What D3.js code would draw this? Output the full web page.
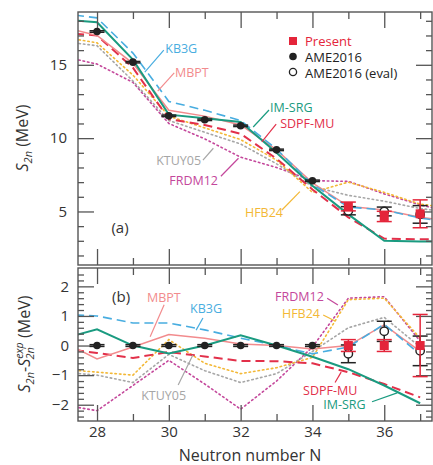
<!DOCTYPE html>
<html>
<head>
<meta charset="utf-8">
<script src="https://cdn.jsdelivr.net/npm/d3@7"></script>
<style>
  body { margin: 0; background: #fff; }
  text { font-family: "Open Sans", "Noto Sans", sans-serif; }
</style>
</head>
<body>
<svg id="chart"></svg>
<script>
const width = 433;
const height = 465;

// ---- data ----
// theory curves, panel (a): S2n in MeV
const nTheory = [27, 28, 29, 30, 31, 32, 33, 34, 35, 36, 37, 38];
const kb3gTop = [18.5, 18.2, 15.8, 12.5, 11.9, 11.2, 9.25, 6.85, 5.3, 5.1, 4.55, 4.2];
const mbptTop = [17.6, 17.0, 15.1, 11.9, 11.5, 10.9, 9.2, 6.95, 5.35, 5.1, 4.6, 4.3];
const imsrgTop = [18.1, 17.9, 15.35, 11.6, 11.35, 11.1, 9.0, 6.75, 4.8, 3.0, 2.95, 2.95];
const sdpfmuTop = [17.2, 17.0, 14.8, 11.3, 10.9, 10.3, 8.6, 6.5, 4.6, 3.15, 3.1, 3.1];
const ktuyTop = [16.6, 16.3, 13.9, 11.2, 10.4, 9.6, 8.25, 6.7, 6.1, 5.7, 5.2, 4.9];
const frdmTop = [15.6, 15.05, 13.8, 11.0, 9.95, 8.7, 8.0, 7.1, 7.05, 6.2, 5.45, 4.9];
const hfbTop = [16.9, 16.5, 14.3, 11.5, 10.7, 9.9, 8.5, 6.3, 7.0, 6.3, 5.5, 5.2];

// theory curves, panel (b): S2n - S2n(exp) in MeV
const nDiff = [27, 28, 29, 30, 31, 32, 33, 34, 35, 36, 37];
const kb3gDiff = [1.05, 1.0, 0.76, 0.76, 0.53, 0.25, 0.0, -0.28, -0.05, 0.72, -0.3];
const mbptDiff = [0.15, -0.45, -0.05, 0.37, 0.25, 0.05, 0.0, -0.12, 0.0, 0.7, -0.2];
const imsrgDiff = [0.22, 0.55, 0.0, -0.27, 0.0, 0.35, 0.0, -0.38, -0.8, -1.35, -1.95];
const sdpfmuDiff = [-0.1, -0.25, -0.42, -0.22, -0.37, -0.52, -0.53, -0.6, -0.9, -1.3, -1.75];
const ktuyDiff = [-0.9, -1.0, -1.25, -0.3, -0.85, -1.25, -0.95, -0.2, 0.6, 0.95, -0.05];
const frdmDiff = [-2.0, -2.2, -1.35, -0.5, -1.3, -2.15, -1.2, -0.05, 1.6, 1.65, 0.15];
const hfbDiff = [-0.8, -0.9, -1.0, 0.2, -0.6, -0.95, -0.75, -0.4, 1.55, 1.6, 0.25];

// experiment
const ameN = [28, 29, 30, 31, 32, 33, 34];
const ameS2n = [17.27, 15.18, 11.52, 11.25, 10.84, 9.2, 7.09];
const ameErr = [0.05, 0.05, 0.05, 0.05, 0.05, 0.05, 0.05];
const ameDiff = [0, 0, 0, 0, 0, 0, 0];
const ameDiffErr = [0.03, 0.03, 0.03, 0.03, 0.03, 0.03, 0.03];

const presentN = [35, 36, 37];
const presentS2n = [5.34, 4.66, 4.84];
const presentErr = [0.3, 0.35, 0.95];
const presentDiff = [0, 0, 0];
const presentDiffErr = [0.2, 0.2, 1.05];

const evalN = [35, 36, 37];
const evalS2n = [5.05, 5.0, 4.8];
const evalErr = [0.28, 0.3, 0.6];
const evalDiff = [-0.28, 0.48, -0.18];
const evalDiffErr = [0.3, 0.34, 0.5];

// ticks
const xMajor = [28, 30, 32, 34, 36];
const xMinor = [29, 31, 33, 35, 37];
const yTopMajor = [5, 10, 15];
const yTopMinor = [2, 3, 4, 6, 7, 8, 9, 11, 12, 13, 14, 16, 17, 18];
const yBotMajor = [-2, -1, 0, 1, 2];
const yBotMinor = [-2.4, -2.2, -1.8, -1.6, -1.4, -1.2, -0.8, -0.6, -0.4, -0.2,
  0.2, 0.4, 0.6, 0.8, 1.2, 1.4, 1.6, 1.8, 2.2, 2.4];

// ---- styles ----
const models = [
  { name: "FRDM12", top: frdmTop, diff: frdmDiff, color: "#c4479b", dash: "1.5,3", w: 1.6 },
  { name: "KTUY05", top: ktuyTop, diff: ktuyDiff, color: "#a6a6a6", dash: "1.5,3", w: 1.6 },
  { name: "HFB24", top: hfbTop, diff: hfbDiff, color: "#f3b836", dash: "1.5,3", w: 1.6 },
  { name: "SDPF-MU", top: sdpfmuTop, diff: sdpfmuDiff, color: "#e2304a", dash: "9,5", w: 2 },
  { name: "MBPT", top: mbptTop, diff: mbptDiff, color: "#f28b8d", dash: null, w: 1.5 },
  { name: "KB3G", top: kb3gTop, diff: kb3gDiff, color: "#48ade0", dash: "9,5", w: 1.6 },
  { name: "IM-SRG", top: imsrgTop, diff: imsrgDiff, color: "#1a9b80", dash: null, w: 2 }
];
const colorOf = {};
models.forEach(m => colorOf[m.name] = m.color);
const frameColor = "#555";
const textColor = "#333";
const presentColor = "#e4253a";

const svg = d3.select("#chart").attr("width", width).attr("height", height);

const x = d3.scaleLinear().domain([27.47, 37.33]).range([78, 432]);
const yTop = d3.scaleLinear().domain([1.35, 18.6]).range([265, 12]);
const yBot = d3.scaleLinear().domain([-2.55, 2.62]).range([421, 268]);

const defs = svg.append("defs");

function panel(id, y) {
  const [y0, y1] = y.range();
  defs.append("clipPath").attr("id", id)
    .append("rect")
    .attr("x", x.range()[0]).attr("y", y1)
    .attr("width", x.range()[1] - x.range()[0]).attr("height", y0 - y1);
  return svg.append("g");
}

function drawAxes(g, y, yMajor, yMinor, pad, xLabels) {
  const [x0, x1] = x.range();
  const [y0, y1] = y.range();
  const fmt = d3.format("d");

  g.append("g").attr("transform", `translate(${x0},0)`)
    .call(d3.axisLeft(y).tickValues(yMajor).tickSize(-16).tickPadding(pad).tickFormat(fmt));
  g.append("g").attr("transform", `translate(${x0},0)`)
    .call(d3.axisLeft(y).tickValues(yMinor).tickSize(-6).tickFormat(""));
  g.append("g").attr("transform", `translate(${x1},0)`)
    .call(d3.axisRight(y).tickValues(yMajor).tickSize(-16).tickFormat(""));
  g.append("g").attr("transform", `translate(${x1},0)`)
    .call(d3.axisRight(y).tickValues(yMinor).tickSize(-6).tickFormat(""));

  g.append("g").attr("transform", `translate(0,${y0})`)
    .call(d3.axisBottom(x).tickValues(xMajor).tickSize(-16).tickPadding(5)
      .tickFormat(xLabels ? fmt : ""));
  g.append("g").attr("transform", `translate(0,${y0})`)
    .call(d3.axisBottom(x).tickValues(xMinor).tickSize(-7).tickFormat(""));
  g.append("g").attr("transform", `translate(0,${y1})`)
    .call(d3.axisTop(x).tickValues(xMajor).tickSize(-16).tickFormat(""));
  g.append("g").attr("transform", `translate(0,${y1})`)
    .call(d3.axisTop(x).tickValues(xMinor).tickSize(-7).tickFormat(""));

  g.selectAll(".domain").remove();
  g.selectAll(".tick line").attr("stroke", frameColor).attr("stroke-width", 1.3);
  g.selectAll(".tick text").attr("fill", textColor).attr("font-size", 15)
    .attr("font-family", "'Open Sans', 'Noto Sans', sans-serif");

  g.append("rect")
    .attr("x", x0).attr("y", y1)
    .attr("width", x1 - x0).attr("height", y0 - y1)
    .attr("fill", "none").attr("stroke", frameColor).attr("stroke-width", 1.4);
}

function drawCurves(g, clipId, y, ns, key) {
  const line = d3.line().x((d, i) => x(ns[i])).y(d => y(d));
  const cg = g.append("g").attr("clip-path", `url(#${clipId})`);
  models.forEach(m => {
    cg.append("path")
      .attr("d", line(m[key]))
      .attr("fill", "none")
      .attr("stroke", m.color)
      .attr("stroke-width", m.w)
      .attr("stroke-dasharray", m.dash)
      .attr("stroke-linecap", m.dash === "1.5,3" ? "round" : "butt");
  });
}

function errorBars(g, y, ns, vals, errs, color) {
  ns.forEach((n, i) => {
    const cx = x(n), lo = y(vals[i] - errs[i]), hi = y(vals[i] + errs[i]);
    g.append("line").attr("x1", cx).attr("x2", cx).attr("y1", lo).attr("y2", hi)
      .attr("stroke", color).attr("stroke-width", 1.5);
    [lo, hi].forEach(yy => g.append("line")
      .attr("x1", cx - 7.5).attr("x2", cx + 7.5).attr("y1", yy).attr("y2", yy)
      .attr("stroke", color).attr("stroke-width", 1.5));
  });
}

function drawData(g, y, ame, amE, ev, evE, pr, prE) {
  errorBars(g, y, ameN, ame, amE, "#222");
  g.selectAll(".ame").data(ame).enter().append("circle")
    .attr("cx", (d, i) => x(ameN[i])).attr("cy", d => y(d)).attr("r", 3.8)
    .attr("fill", "#222");
  errorBars(g, y, evalN, ev, evE, "#222");
  g.selectAll(".ev").data(ev).enter().append("circle")
    .attr("cx", (d, i) => x(evalN[i])).attr("cy", d => y(d)).attr("r", 4.2)
    .attr("fill", "#fff").attr("stroke", "#222").attr("stroke-width", 1.4);
  errorBars(g, y, presentN, pr, prE, presentColor);
  g.selectAll(".pr").data(pr).enter().append("rect")
    .attr("x", (d, i) => x(presentN[i]) - 4.5).attr("y", d => y(d) - 4.5)
    .attr("width", 9).attr("height", 9)
    .attr("fill", presentColor);
}

function annotate(g, y, labels) {
  labels.forEach(l => {
    g.append("line")
      .attr("x1", x(l.from[0])).attr("y1", y(l.from[1]))
      .attr("x2", x(l.to[0])).attr("y2", y(l.to[1]))
      .attr("stroke", colorOf[l.name]).attr("stroke-width", 1.2);
    g.append("text")
      .attr("x", x(l.at[0])).attr("y", y(l.at[1]))
      .attr("text-anchor", l.anchor || "start")
      .attr("font-size", 12.5)
      .attr("fill", colorOf[l.name])
      .text(l.name);
  });
}

// ---- panel (a) ----
const gTop = panel("clipTop", yTop);
drawCurves(gTop, "clipTop", yTop, nTheory, "top");
drawAxes(gTop, yTop, yTopMajor, yTopMinor, 11, false);
drawData(gTop, yTop, ameS2n, ameErr, evalS2n, evalErr, presentS2n, presentErr);

annotate(gTop, yTop, [
  { name: "KB3G", at: [29.9, 15.8], from: [29.33, 14.5], to: [29.86, 16.0] },
  { name: "MBPT", at: [30.17, 14.15], from: [29.69, 13.2], to: [30.15, 14.45] },
  { name: "IM-SRG", at: [32.82, 11.78], from: [32.35, 10.76], to: [32.79, 11.92] },
  { name: "SDPF-MU", at: [33.1, 10.69], from: [32.59, 9.74], to: [32.99, 10.96] },
  { name: "KTUY05", at: [30.9, 8.17], from: [31.24, 9.31], to: [30.95, 8.5], anchor: "end" },
  { name: "FRDM12", at: [31.37, 6.8], from: [31.94, 8.63], to: [31.45, 7.4], anchor: "end" },
  { name: "HFB24", at: [32.12, 4.62], from: [33.65, 6.35], to: [33.15, 5.1] }
]);

gTop.append("text").attr("x", x(28.64)).attr("y", yTop(3.53))
  .attr("text-anchor", "middle").attr("font-size", 15).attr("fill", textColor).text("(a)");

// legend
const legend = svg.append("g").attr("font-size", 13);
legend.append("rect").attr("x", 289).attr("y", 37).attr("width", 8).attr("height", 8).attr("fill", presentColor);
legend.append("text").attr("x", 305).attr("y", 45.5).attr("fill", presentColor).text("Present");
legend.append("circle").attr("cx", 293).attr("cy", 56.5).attr("r", 3.8).attr("fill", "#222");
legend.append("text").attr("x", 305).attr("y", 61.5).attr("fill", "#222").text("AME2016");
legend.append("circle").attr("cx", 293).attr("cy", 72).attr("r", 3.6)
  .attr("fill", "#fff").attr("stroke", "#222").attr("stroke-width", 1.3);
legend.append("text").attr("x", 305).attr("y", 77.5).attr("fill", "#222").text("AME2016 (eval)");

// ---- panel (b) ----
const gBot = panel("clipBot", yBot);
drawCurves(gBot, "clipBot", yBot, nDiff, "diff");
drawAxes(gBot, yBot, yBotMajor, yBotMinor, 9, true);
drawData(gBot, yBot, ameDiff, ameDiffErr, evalDiff, evalDiffErr, presentDiff, presentDiffErr);

annotate(gBot, yBot, [
  { name: "MBPT", at: [29.39, 1.47], from: [29.48, 0.3], to: [29.87, 1.38] },
  { name: "KB3G", at: [30.59, 1.1], from: [30.76, 0.52], to: [30.95, 0.93] },
  { name: "KTUY05", at: [29.23, -1.84], from: [30.67, -0.32], to: [30.26, -1.33] },
  { name: "FRDM12", at: [32.96, 1.5], from: [34.71, 1.37], to: [34.41, 1.6] },
  { name: "HFB24", at: [33.15, 0.93], from: [34.63, 0.83], to: [34.3, 1.03] },
  { name: "SDPF-MU", at: [33.74, -1.66], from: [34.8, -0.9], to: [34.63, -1.25] },
  { name: "IM-SRG", at: [34.3, -2.14], from: [36.36, -1.6], to: [35.66, -1.9] }
]);

gBot.append("text").attr("x", x(28.67)).attr("y", yBot(1.47))
  .attr("text-anchor", "middle").attr("font-size", 15).attr("fill", textColor).text("(b)");

// ---- axis titles ----
const t1 = svg.append("text")
  .attr("transform", "translate(28,138) rotate(-90)")
  .attr("text-anchor", "middle").attr("font-size", 16).attr("fill", textColor);
t1.append("tspan").attr("font-style", "italic").text("S");
t1.append("tspan").attr("font-style", "italic").attr("font-size", 11).attr("dy", 4).text("2n");
t1.append("tspan").attr("dy", -4).text(" (MeV)");

const t2 = svg.append("text")
  .attr("transform", "translate(30,344) rotate(-90)")
  .attr("text-anchor", "middle").attr("font-size", 16).attr("fill", textColor);
t2.append("tspan").attr("font-style", "italic").text("S");
t2.append("tspan").attr("font-style", "italic").attr("font-size", 11).attr("dy", 4).text("2n");
t2.append("tspan").attr("dy", -4).text("-");
t2.append("tspan").attr("font-style", "italic").text("S");
t2.append("tspan").attr("font-style", "italic").attr("font-size", 10.5).attr("dy", -7).text("exp");
t2.append("tspan").attr("font-style", "italic").attr("font-size", 11).attr("dx", -17).attr("dy", 11).text("2n");
t2.append("tspan").attr("dx", 5).attr("dy", -4).text(" (MeV)");

svg.append("text")
  .attr("x", 250).attr("y", 461)
  .attr("text-anchor", "middle").attr("font-size", 16).attr("fill", textColor)
  .text("Neutron number N");
</script>
</body>
</html>
